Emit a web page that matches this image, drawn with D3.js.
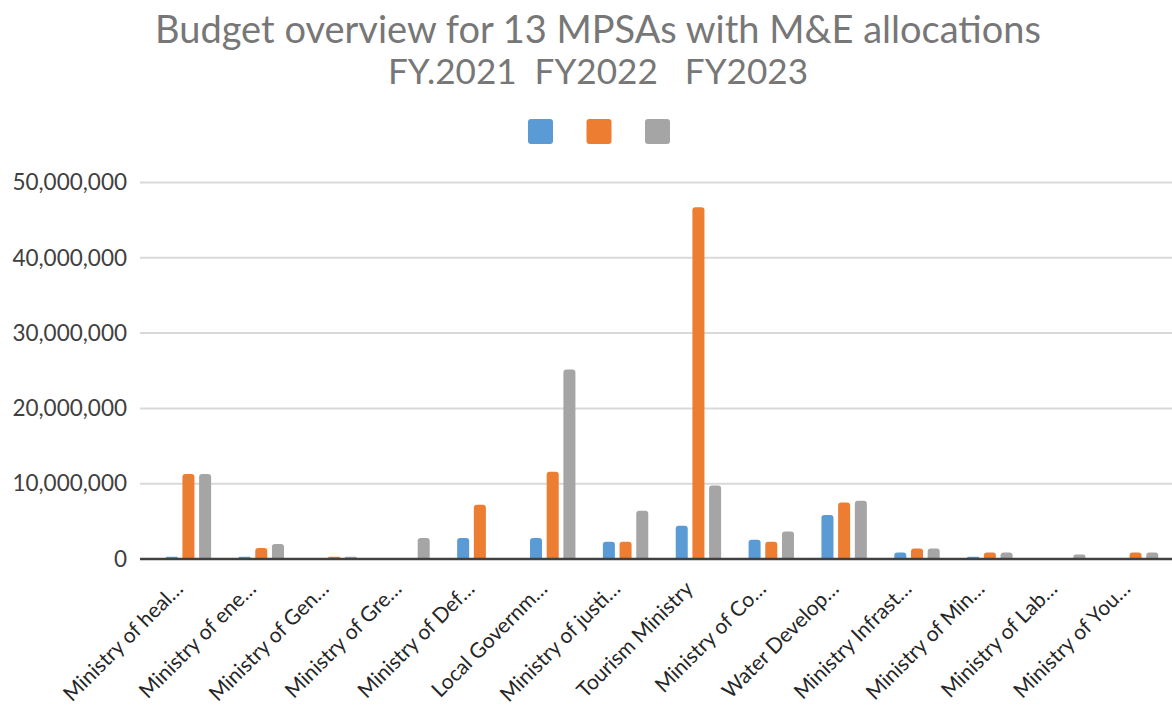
<!DOCTYPE html>
<html>
<head>
<meta charset="utf-8">
<script src="https://cdn.jsdelivr.net/npm/d3@7"></script>
<style>
  body { margin: 0; background: #fff; }
  text { font-family: Lato, "Open Sans", sans-serif; }
</style>
</head>
<body>
<svg width="1172" height="709"></svg>
<script>
var categories = [
  "Ministry of heal\u2026", "Ministry of ene\u2026", "Ministry of Gen\u2026", "Ministry of Gre\u2026",
  "Ministry of Def\u2026", "Local Governm\u2026", "Ministry of justi\u2026", "Tourism Ministry",
  "Ministry of Co\u2026", "Water Develop\u2026", "Ministry Infrast\u2026", "Ministry of Min\u2026",
  "Ministry of Lab\u2026", "Ministry of You\u2026"
];
var seriesNames = ["FY2021", "FY2022", "FY2023"];
var fy2021 = [300000, 300000, 0, 0, 2800000, 2800000, 2300000, 4400000, 2550000, 5850000, 850000, 300000, 0, 0];
var fy2022 = [11300000, 1450000, 300000, 0, 7200000, 11600000, 2300000, 46700000, 2300000, 7500000, 1400000, 850000, 0, 850000];
var fy2023 = [11300000, 2000000, 300000, 2800000, 0, 25150000, 6400000, 9750000, 3650000, 7750000, 1400000, 850000, 600000, 850000];
var yTicks = [0, 10000000, 20000000, 30000000, 40000000, 50000000];
var colors = ["#5b9bd5", "#ed7d31", "#a5a5a5"];

var series = [fy2021, fy2022, fy2023];

var svg = d3.select("svg"),
  plot = { left: 152, right: 1172, top: 182.5, bottom: 559 };

var x = d3.scaleBand().domain(categories).range([plot.left, plot.right]).padding(0);
var x1 = d3.scaleBand().domain(seriesNames).range([-22.7, 22.7]).paddingInner(0.28);
var y = d3.scaleLinear().domain([0, 50000000]).range([plot.bottom, plot.top]);

// title, sized to the reference width
var title = svg.append("text")
  .attr("x", 598).attr("y", 43)
  .attr("text-anchor", "middle")
  .attr("fill", "#777")
  .style("font-size", "100px")
  .text("Budget overview for 13 MPSAs with M&E allocations");
var tw = title.node().getComputedTextLength();
var fs = 100 * 886 / tw;
title.style("font-size", fs + "px");

var sub = svg.append("text")
  .attr("x", 598).attr("y", 84)
  .attr("text-anchor", "middle")
  .attr("fill", "#777")
  .style("font-size", fs + "px")
  .style("white-space", "pre")
  .attr("xml:space", "preserve")
  .text("FY.2021  FY2022   FY2023");
var sw = sub.node().getComputedTextLength();
sub.style("font-size", (fs * 420 / sw) + "px");

// legend swatches (no labels)
svg.append("g").selectAll("rect")
  .data(seriesNames)
  .enter()
  .append("rect")
  .attr("x", function(d, i) { return 528 + i * 58.5; })
  .attr("y", 119)
  .attr("width", 25)
  .attr("height", 25)
  .attr("rx", 3)
  .attr("fill", function(d, i) { return colors[i]; });

// gridlines
svg.append("g").selectAll("line")
  .data(yTicks.slice(1))
  .enter()
  .append("line")
  .attr("x1", 140).attr("x2", plot.right)
  .attr("y1", function(d) { return y(d); })
  .attr("y2", function(d) { return y(d); })
  .attr("stroke", "#d9d9d9")
  .attr("stroke-width", 2);

// y axis labels
var yAxis = svg.append("g")
  .attr("transform", "translate(140,0)")
  .call(d3.axisLeft(y).tickValues(yTicks).tickSize(0).tickPadding(13).tickFormat(d3.format(",")));
yAxis.select(".domain").remove();
yAxis.selectAll("text")
  .attr("fill", "#404040")
  .style("font-size", "22.5px")
  .style("font-family", "Lato, sans-serif");

// bars with rounded tops
function barPath(x0, w, top, bottom) {
  var h = bottom - top;
  if (h <= 0) return "";
  var r = Math.min(3, h / 2, w / 2);
  return "M" + x0 + "," + bottom +
    "V" + (top + r) +
    "Q" + x0 + "," + top + " " + (x0 + r) + "," + top +
    "H" + (x0 + w - r) +
    "Q" + (x0 + w) + "," + top + " " + (x0 + w) + "," + (top + r) +
    "V" + bottom + "Z";
}

var groups = svg.append("g").selectAll("g")
  .data(categories)
  .enter()
  .append("g")
  .attr("transform", function(d) { return "translate(" + (x(d) + x.bandwidth() / 2) + ",0)"; });

groups.selectAll("path")
  .data(function(d, i) {
    return seriesNames.map(function(s, j) { return { s: s, j: j, v: series[j][i] }; });
  })
  .enter()
  .append("path")
  .attr("d", function(d) { return barPath(x1(d.s), x1.bandwidth(), y(d.v), plot.bottom); })
  .attr("fill", function(d) { return colors[d.j]; });

// baseline
svg.append("line")
  .attr("x1", 140).attr("x2", plot.right)
  .attr("y1", y(0)).attr("y2", y(0))
  .attr("stroke", "#404040")
  .attr("stroke-width", 2.5);

// x labels
svg.append("g").selectAll("text")
  .data(categories)
  .enter()
  .append("text")
  .attr("transform", function(d) {
    return "translate(" + (x(d) + x.bandwidth() / 2 - 4) + ",590) rotate(-45)";
  })
  .attr("text-anchor", "end")
  .attr("fill", "#262626")
  .style("font-size", "21px")
  .text(function(d) { return d; });
</script>
</body>
</html>
